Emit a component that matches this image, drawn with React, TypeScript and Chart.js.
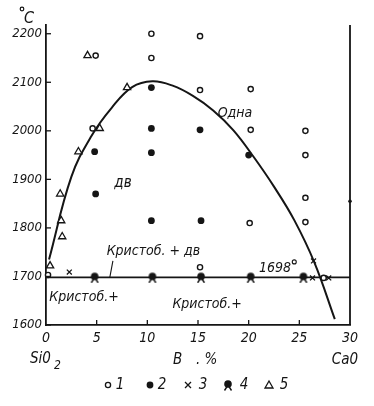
import React, { useEffect, useRef } from "react";
import { Chart, registerables } from "chart.js";

Chart.register(...registerables);

// ---- axes ----
const xTicks = [0, 5, 10, 15, 20, 25, 30];
const yTicks = [1600, 1700, 1800, 1900, 2000, 2100, 2200];
const X_MIN = 0;
const X_MAX = 30;
const Y_MIN = 1600;
const Y_MAX = 2218;

// ---- liquidus curve ----
const curveX = [0.3, 2.5, 4.5, 6.5, 8.5, 10.5, 12.5, 14.5, 16.5, 18.5, 20.5, 22.5, 24.5, 26.5, 28.5];
const curveY = [1735, 1905, 1990, 2048, 2090, 2102, 2093, 2072, 2042, 2001, 1946, 1885, 1816, 1728, 1612];

// ---- eutectic line 1698° ----
const eutX = [0, 30];
const eutY = [1698, 1698];

// ---- series 1: open circles ----
const s1X = [10.4, 10.4, 4.9, 4.6, 15.2, 15.2, 20.2, 20.2, 25.6, 25.6, 25.6, 25.6, 20.1, 15.2, 27.4, 0.2];
const s1Y = [2200, 2150, 2155, 2005, 2195, 2084, 2086, 2002, 2000, 1950, 1862, 1812, 1810, 1719, 1697, 1703];

// ---- series 2: filled circles ----
const s2X = [10.4, 10.4, 15.2, 4.8, 10.4, 4.9, 10.4, 15.3, 20.0, 30.0];
const s2Y = [2089, 2005, 2002, 1957, 1955, 1870, 1815, 1815, 1950, 1855];

// ---- series 3: crosses ----
const s3X = [2.3, 26.4, 26.3, 27.9];
const s3Y = [1709, 1732, 1697, 1697];

// ---- series 4: filled "star" marks ----
const s4X = [4.8, 10.5, 15.3, 20.2, 25.4];
const s4Y = [1698, 1698, 1698, 1698, 1698];

// ---- series 5: triangles ----
const s5X = [4.1, 5.3, 8.0, 3.2, 1.4, 1.5, 1.6, 0.4];
const s5Y = [2155, 2005, 2089, 1957, 1870, 1815, 1782, 1722];

const legendLabels = ["1", "2", "3", "4", "5"];
const regionLabels = ["Одна", "дв", "Кристоб. + дв", "1698", "Кристоб.+", "Кристоб.+"];
const axisLabels = ["Si0", "2", "B", ". %", "Ca0", "°", "C"];

const INK = "#151515";
const FONT = "'DejaVu Sans Condensed', 'DejaVu Sans', sans-serif";

const pts = (xs: number[], ys: number[]) => xs.map((x, i) => ({ x, y: ys[i] }));

function makeStar(): HTMLCanvasElement {
  const c = document.createElement("canvas");
  c.width = 12;
  c.height = 12;
  const g = c.getContext("2d")!;
  g.strokeStyle = INK;
  g.fillStyle = INK;
  g.lineWidth = 1.4;
  g.beginPath();
  g.moveTo(6, 6);
  g.lineTo(2.5, 11.5);
  g.moveTo(6, 6);
  g.lineTo(9.5, 11.5);
  g.stroke();
  g.beginPath();
  g.arc(6, 5, 3.8, 0, Math.PI * 2);
  g.fill();
  return c;
}

function drawSym(ctx: CanvasRenderingContext2D, kind: number, cx: number, cy: number, star: HTMLCanvasElement) {
  ctx.save();
  ctx.strokeStyle = INK;
  ctx.fillStyle = INK;
  ctx.lineWidth = 1.3;
  if (kind === 0) {
    ctx.beginPath();
    ctx.arc(cx, cy, 2.6, 0, Math.PI * 2);
    ctx.stroke();
  } else if (kind === 1) {
    ctx.beginPath();
    ctx.arc(cx, cy, 3.4, 0, Math.PI * 2);
    ctx.fill();
  } else if (kind === 2) {
    ctx.beginPath();
    ctx.moveTo(cx - 3, cy - 3);
    ctx.lineTo(cx + 3, cy + 3);
    ctx.moveTo(cx + 3, cy - 3);
    ctx.lineTo(cx - 3, cy + 3);
    ctx.stroke();
  } else if (kind === 3) {
    ctx.drawImage(star, cx - 6, cy - 6);
  } else {
    ctx.beginPath();
    ctx.moveTo(cx, cy - 4);
    ctx.lineTo(cx + 4, cy + 3);
    ctx.lineTo(cx - 4, cy + 3);
    ctx.closePath();
    ctx.stroke();
  }
  ctx.restore();
}

export default function App() {
  const ref = useRef<HTMLCanvasElement | null>(null);

  useEffect(() => {
    if (!ref.current) return;
    const star = makeStar();

    const annot = {
      id: "annot",
      afterDraw(chart: any) {
        const { ctx, chartArea: a, scales } = chart;
        const x = scales.x;
        const y = scales.y;
        const X = (v: number) => x.getPixelForValue(v);
        const Y = (v: number) => y.getPixelForValue(v);
        ctx.save();
        ctx.strokeStyle = INK;
        ctx.fillStyle = INK;
        // right axis (CaO side)
        ctx.lineWidth = 1.8;
        ctx.beginPath();
        ctx.moveTo(X(X_MAX), a.top);
        ctx.lineTo(X(X_MAX), a.bottom);
        ctx.stroke();
        // inward ticks
        ctx.lineWidth = 1.3;
        yTicks.forEach((v) => {
          const p = Y(v);
          ctx.beginPath();
          ctx.moveTo(a.left, p);
          ctx.lineTo(a.left + 5, p);
          ctx.stroke();
        });
        xTicks.forEach((v) => {
          if (v === X_MIN || v === X_MAX) return;
          const p = X(v);
          ctx.beginPath();
          ctx.moveTo(p, a.bottom);
          ctx.lineTo(p, a.bottom - 5);
          ctx.stroke();
        });
        // leader line for "Кристоб. + дв"
        ctx.lineWidth = 1.1;
        ctx.beginPath();
        ctx.moveTo(X(6.6), Y(1732));
        ctx.lineTo(X(6.3), Y(1698));
        ctx.stroke();

        // region labels
        ctx.textAlign = "center";
        ctx.textBaseline = "middle";
        ctx.font = `italic 14px ${FONT}`;
        ctx.fillText(regionLabels[0], X(18.65), Y(2037));
        ctx.font = `italic 15px ${FONT}`;
        ctx.fillText(regionLabels[1], X(7.6), Y(1893));
        ctx.font = `italic 14px ${FONT}`;
        ctx.fillText(regionLabels[2], X(10.6), Y(1752));
        ctx.font = `italic 14px ${FONT}`;
        ctx.fillText(regionLabels[3], X(22.6), Y(1717));
        ctx.lineWidth = 1.1;
        ctx.beginPath();
        ctx.arc(X(24.5), Y(1730), 2, 0, Math.PI * 2);
        ctx.stroke();
        ctx.font = `italic 14px ${FONT}`;
        ctx.fillText(regionLabels[4], X(3.75), Y(1656));
        ctx.fillText(regionLabels[5], X(15.9), Y(1643));

        // °C
        ctx.lineWidth = 1.2;
        ctx.beginPath();
        ctx.arc(22, 9, 1.8, 0, Math.PI * 2);
        ctx.stroke();
        ctx.font = `italic 16px ${FONT}`;
        ctx.fillText(axisLabels[6], 29, 19);

        // axis end labels
        ctx.font = `italic 15px ${FONT}`;
        ctx.textAlign = "left";
        ctx.fillText(axisLabels[0], 30, 359);
        ctx.font = `italic 12px ${FONT}`;
        ctx.fillText(axisLabels[1], 54, 366);
        ctx.font = `italic 15px ${FONT}`;
        ctx.fillText(axisLabels[2], 173, 360);
        ctx.fillText(axisLabels[3], 196, 360);
        ctx.textAlign = "right";
        ctx.fillText(axisLabels[4], 358, 360);

        // legend
        const symX = [108, 150, 188, 228, 269];
        const txtX = [120, 162, 203, 244, 284];
        ctx.font = `italic 15px ${FONT}`;
        ctx.textAlign = "center";
        legendLabels.forEach((t, i) => {
          drawSym(ctx, i, symX[i], 385, star);
          ctx.fillText(t, txtX[i], 385);
        });
        ctx.restore();
      },
    };

    const chart = new Chart(ref.current, {
      type: "scatter",
      data: {
        datasets: [
          {
            data: pts(s4X, s4Y),
            pointStyle: star as any,
            pointRadius: 5,
            order: 1,
          },
          {
            data: pts(s1X, s1Y),
            pointStyle: "circle",
            pointRadius: 2.6,
            pointBorderWidth: 1.4,
            pointBorderColor: INK,
            pointBackgroundColor: "#fff",
            order: 1,
          },
          {
            data: pts(s2X, s2Y),
            pointStyle: "circle",
            pointRadius: s2X.map((v) => (v >= X_MAX ? 1.8 : 3.4)),
            pointBorderWidth: 0,
            pointBackgroundColor: INK,
            pointBorderColor: INK,
            order: 1,
          },
          {
            data: pts(s3X, s3Y),
            pointStyle: "crossRot",
            pointRadius: 3.5,
            pointBorderWidth: 1.3,
            pointBorderColor: INK,
            order: 1,
          },
          {
            data: pts(s5X, s5Y),
            pointStyle: "triangle",
            pointRadius: 4.2,
            pointBorderWidth: 1.3,
            pointBorderColor: INK,
            pointBackgroundColor: "#fff",
            order: 1,
          },
          {
            type: "line" as any,
            data: pts(curveX, curveY),
            showLine: true,
            borderColor: INK,
            borderWidth: 2,
            pointRadius: 0,
            tension: 0.4,
            fill: false,
            order: 2,
          } as any,
          {
            type: "line" as any,
            data: pts(eutX, eutY),
            showLine: true,
            borderColor: INK,
            borderWidth: 1.8,
            pointRadius: 0,
            fill: false,
            order: 2,
          } as any,
        ],
      },
      options: {
        responsive: false,
        animation: false,
        clip: false as any,
        layout: { padding: { top: 25, right: 24, bottom: 59, left: 0 } },
        plugins: { legend: { display: false }, tooltip: { enabled: false } },
        scales: {
          x: {
            type: "linear",
            min: X_MIN,
            max: X_MAX,
            afterBuildTicks: (s: any) => {
              s.ticks = xTicks.map((v) => ({ value: v }));
            },
            afterFit: (s: any) => {
              s.height = 22;
            },
            grid: { display: false, drawTicks: false },
            border: { display: true, color: INK, width: 1.8 },
            ticks: {
              color: INK,
              padding: 5,
              maxRotation: 0,
              font: { family: FONT, style: "italic", size: 14 },
              callback: (v: any) => String(v),
            },
          },
          y: {
            type: "linear",
            min: Y_MIN,
            max: Y_MAX,
            afterBuildTicks: (s: any) => {
              s.ticks = yTicks.map((v) => ({ value: v }));
            },
            afterFit: (s: any) => {
              s.width = 46;
            },
            grid: { display: false, drawTicks: false },
            border: { display: true, color: INK, width: 1.8 },
            ticks: {
              color: INK,
              padding: 4,
              font: { family: FONT, style: "italic", size: 13 },
              callback: (v: any) => String(v),
            },
          },
        },
      },
      plugins: [annot],
    });
    return () => chart.destroy();
  }, []);

  return (
    <div style={{ position: "fixed", left: 0, top: 0, width: 374, height: 406, background: "#fff" }}>
      <canvas ref={ref} width={374} height={406} style={{ width: 374, height: 406, display: "block" }} />
    </div>
  );
}
